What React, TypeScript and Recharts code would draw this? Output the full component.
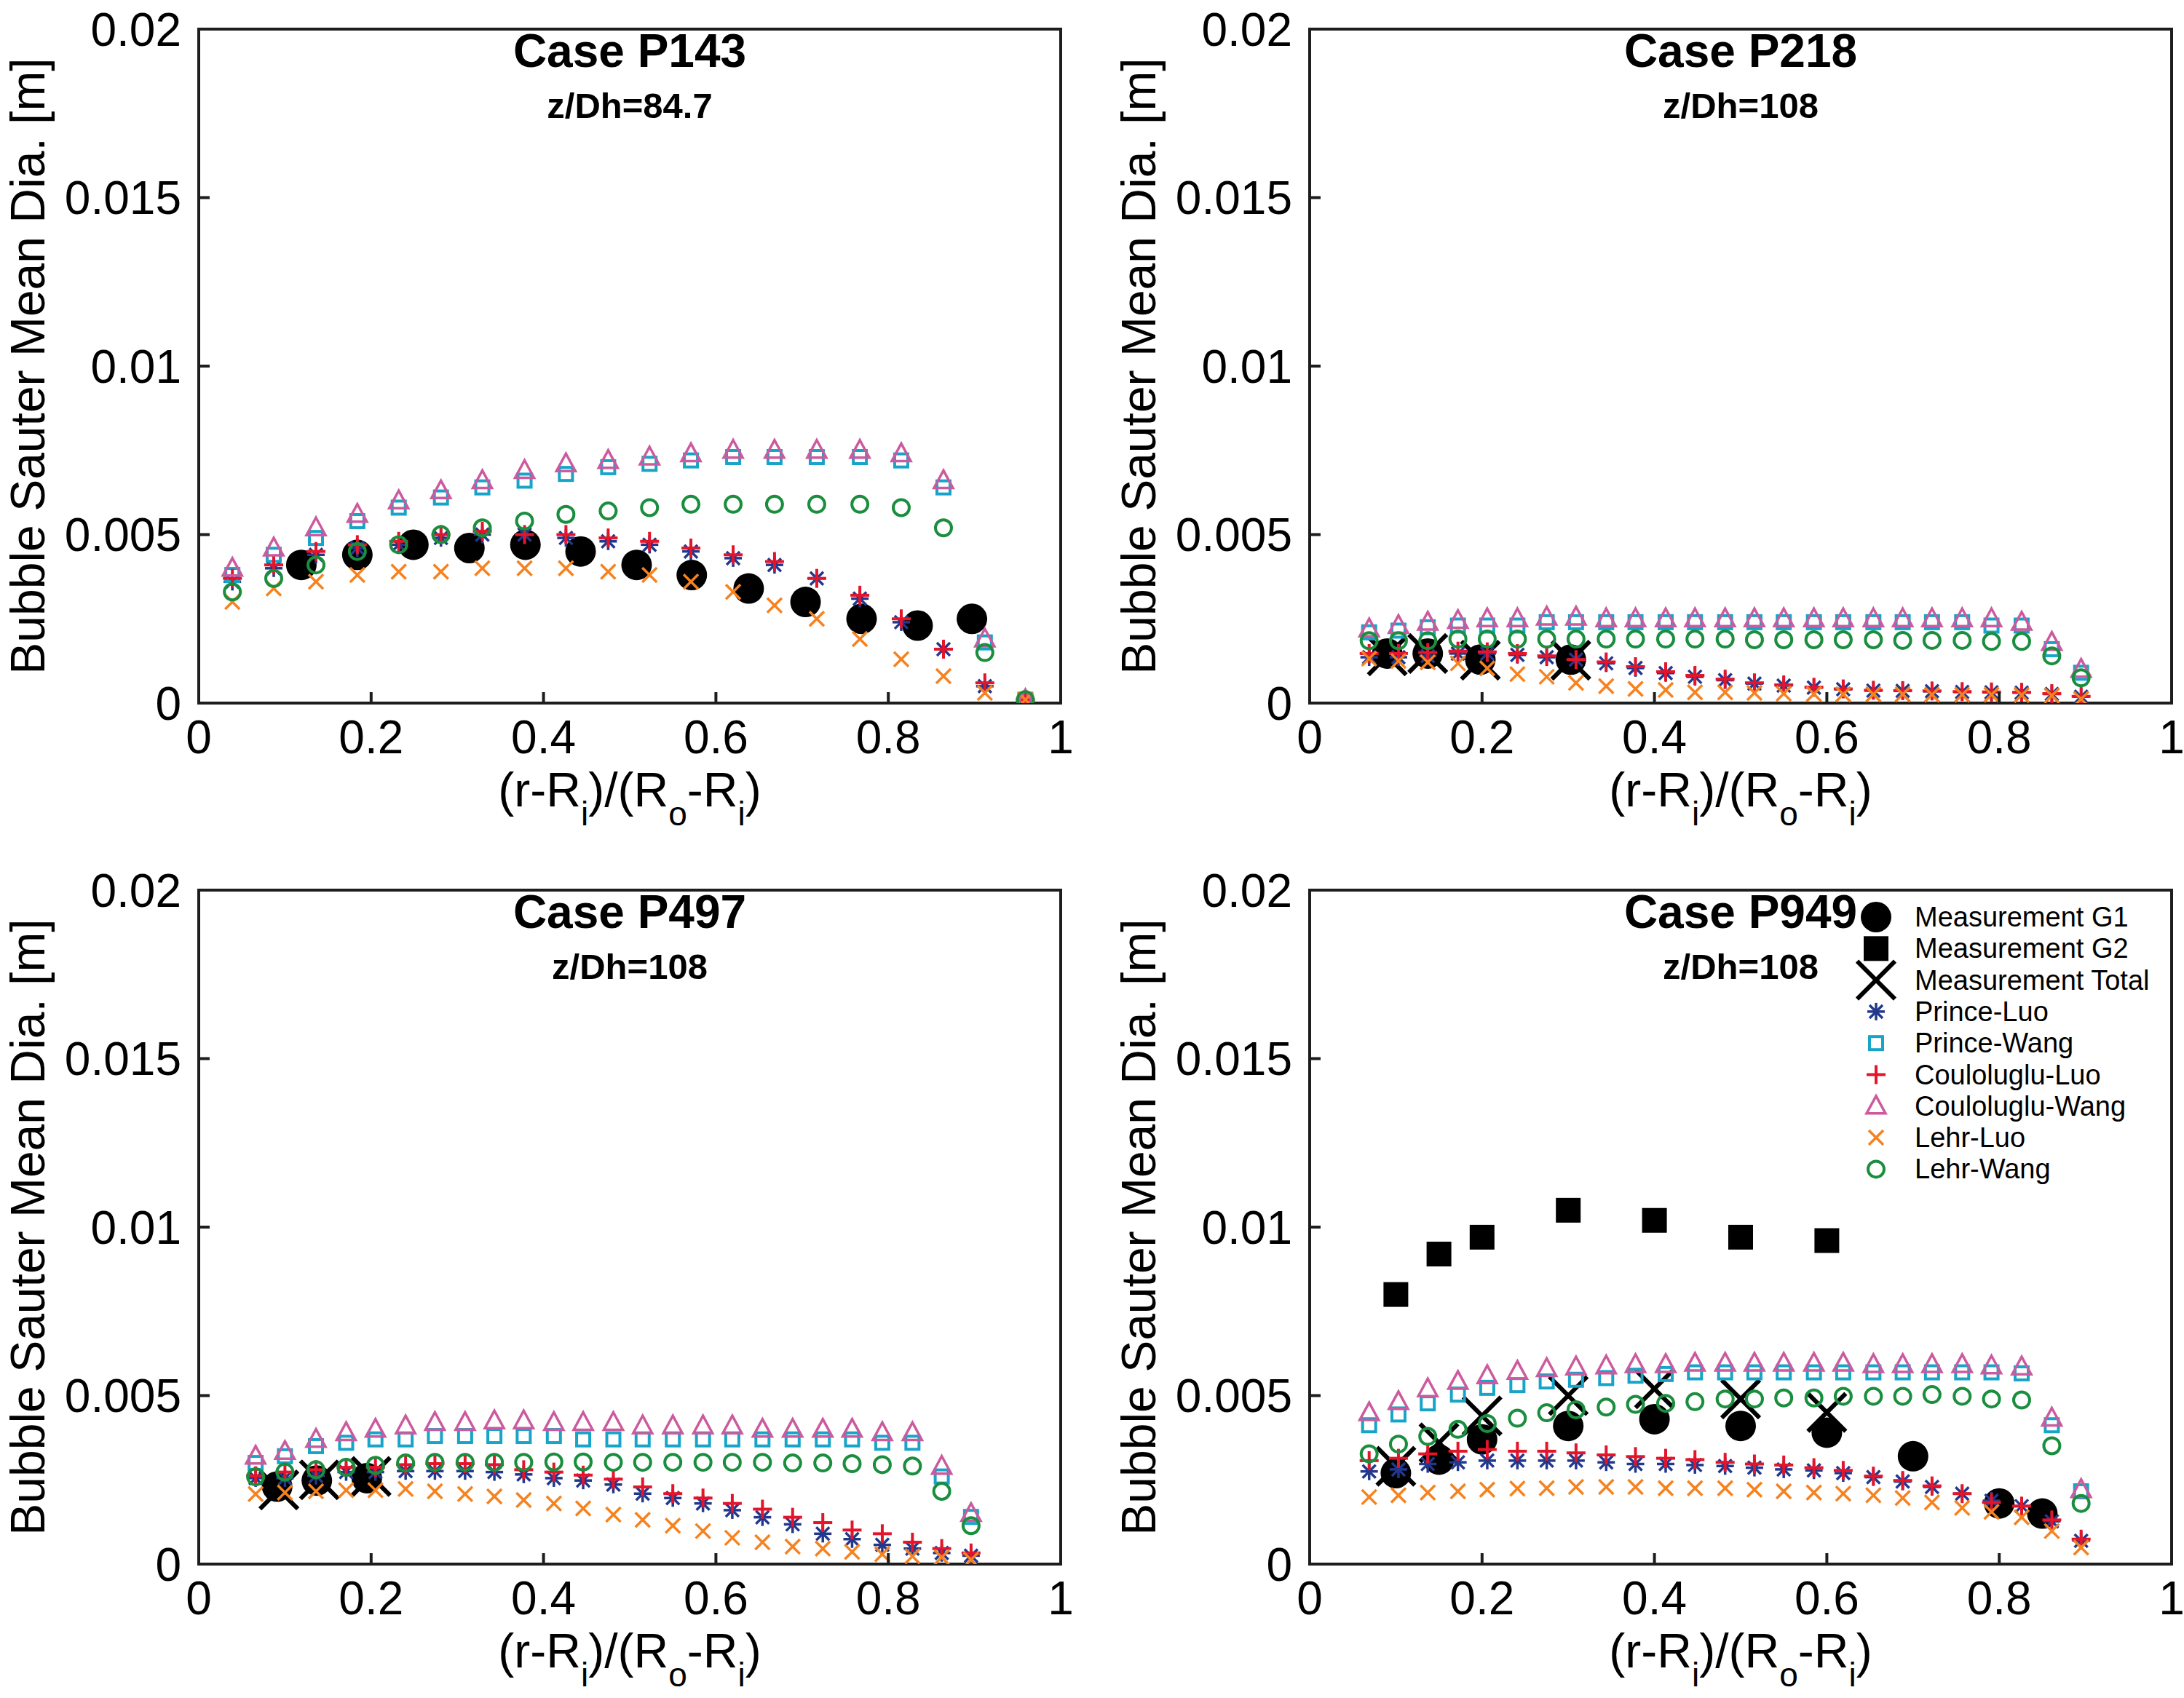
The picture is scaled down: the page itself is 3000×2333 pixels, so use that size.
import React from "react";
import { ScatterChart, Scatter, XAxis, YAxis } from "recharts";

const FONT = '"Liberation Sans", Arial, Helvetica, sans-serif';
const INK = "#1d1d1d";

const xTicks = [0, 0.2, 0.4, 0.6, 0.8, 1];
const yTicks = [0, 0.005, 0.01, 0.015, 0.02];

// ---- Case P143, z/Dh=84.7 ----
const p143X = [0.039, 0.087, 0.136, 0.184, 0.232, 0.281, 0.329, 0.378, 0.426, 0.475, 0.523, 0.571, 0.62, 0.668, 0.717, 0.767, 0.815, 0.864, 0.912, 0.959];
const p143PrinceLuo = [0.0036, 0.004, 0.0044, 0.0046, 0.0047, 0.0049, 0.005, 0.005, 0.0049, 0.0048, 0.0047, 0.0045, 0.0043, 0.0041, 0.0037, 0.0031, 0.0024, 0.0016, 0.0005, 0.0001];
const p143PrinceWang = [0.0038, 0.0044, 0.0049, 0.0054, 0.0058, 0.0061, 0.0064, 0.0066, 0.0068, 0.007, 0.0071, 0.0072, 0.0073, 0.0073, 0.0073, 0.0073, 0.0072, 0.0064, 0.0018, 0.0001];
const p143CouLuo = [0.0037, 0.0041, 0.0045, 0.0047, 0.0048, 0.005, 0.0051, 0.005, 0.005, 0.0049, 0.0048, 0.0046, 0.0044, 0.0042, 0.0037, 0.0032, 0.0025, 0.0016, 0.0006, 0.0001];
const p143CouWang = [0.004, 0.0046, 0.0052, 0.0056, 0.006, 0.0063, 0.0066, 0.0069, 0.0071, 0.0072, 0.0073, 0.0074, 0.0075, 0.0075, 0.0075, 0.0075, 0.0074, 0.0066, 0.0019, 0.0001];
const p143LehrLuo = [0.003, 0.0034, 0.0036, 0.0038, 0.0039, 0.0039, 0.004, 0.004, 0.004, 0.0039, 0.0038, 0.0036, 0.0033, 0.0029, 0.0025, 0.0019, 0.0013, 0.0008, 0.0003, 0.0001];
const p143LehrWang = [0.0033, 0.0037, 0.0041, 0.0045, 0.0047, 0.005, 0.0052, 0.0054, 0.0056, 0.0057, 0.0058, 0.0059, 0.0059, 0.0059, 0.0059, 0.0059, 0.0058, 0.0052, 0.0015, 0.0001];
const p143G1X = [0.119, 0.184, 0.249, 0.314, 0.379, 0.443, 0.508, 0.572, 0.638, 0.704, 0.769, 0.834, 0.897];
const p143G1 = [0.0041, 0.0044, 0.0047, 0.0046, 0.0047, 0.0045, 0.0041, 0.0038, 0.0034, 0.003, 0.0025, 0.0023, 0.0025];

// ---- Case P218, z/Dh=108 ----
const p218X = [0.069, 0.103, 0.137, 0.172, 0.206, 0.241, 0.275, 0.309, 0.344, 0.378, 0.413, 0.447, 0.482, 0.516, 0.55, 0.585, 0.619, 0.654, 0.688, 0.722, 0.757, 0.791, 0.826, 0.861, 0.895];
const p218PrinceLuo = [0.00136, 0.00136, 0.0014, 0.00147, 0.00147, 0.00143, 0.00136, 0.00129, 0.00118, 0.00104, 0.00089, 0.00078, 0.00068, 0.00058, 0.00052, 0.00046, 0.00041, 0.00037, 0.00036, 0.00035, 0.00033, 0.00032, 0.00031, 0.00027, 0.00019];
const p218PrinceWang = [0.0021, 0.00215, 0.00225, 0.0023, 0.0023, 0.0023, 0.0024, 0.0024, 0.0024, 0.0024, 0.0024, 0.0024, 0.0024, 0.0024, 0.0024, 0.0024, 0.0024, 0.0024, 0.0024, 0.0024, 0.0024, 0.0023, 0.0023, 0.0016, 0.0009];
const p218CouLuo = [0.00147, 0.00147, 0.0015, 0.00154, 0.00152, 0.00147, 0.0014, 0.00129, 0.00122, 0.00108, 0.00093, 0.00082, 0.00071, 0.0006, 0.00054, 0.00047, 0.00042, 0.00038, 0.00037, 0.00036, 0.00034, 0.00033, 0.00032, 0.00028, 0.0002];
const p218CouWang = [0.0022, 0.0023, 0.0024, 0.00245, 0.0025, 0.0025, 0.00255, 0.00255, 0.0025, 0.0025, 0.0025, 0.0025, 0.0025, 0.0025, 0.0025, 0.0025, 0.0025, 0.0025, 0.0025, 0.0025, 0.0025, 0.0025, 0.0024, 0.0018, 0.001];
const p218LehrLuo = [0.00132, 0.00125, 0.00121, 0.00118, 0.00103, 0.00086, 0.00078, 0.0006, 0.0005, 0.00042, 0.00039, 0.00032, 0.00032, 0.0003, 0.00028, 0.00027, 0.00026, 0.00026, 0.00026, 0.00025, 0.00025, 0.00025, 0.00024, 0.00022, 0.00012];
const p218LehrWang = [0.00185, 0.00185, 0.00185, 0.0019, 0.0019, 0.0019, 0.0019, 0.0019, 0.0019, 0.0019, 0.0019, 0.0019, 0.0019, 0.00188, 0.00188, 0.00188, 0.00188, 0.00188, 0.00186, 0.00186, 0.00186, 0.00183, 0.00183, 0.0014, 0.00075];
const p218MeasX = [0.09, 0.137, 0.198, 0.303];
const p218G1 = [0.00147, 0.00147, 0.00129, 0.00129];
const p218Total = [0.0014, 0.00147, 0.00127, 0.00127];

// ---- Case P497, z/Dh=108 ----
const p497X = [0.066, 0.1, 0.136, 0.171, 0.205, 0.24, 0.274, 0.309, 0.343, 0.377, 0.412, 0.446, 0.481, 0.515, 0.55, 0.585, 0.619, 0.654, 0.689, 0.724, 0.758, 0.793, 0.828, 0.862, 0.896];
const p497PrinceLuo = [0.00255, 0.00255, 0.00262, 0.00273, 0.00273, 0.00276, 0.00276, 0.00276, 0.00273, 0.00266, 0.00255, 0.00248, 0.00236, 0.00209, 0.00196, 0.0018, 0.0016, 0.00139, 0.00118, 0.0009, 0.00074, 0.00057, 0.00046, 0.00033, 0.00025];
const p497PrinceWang = [0.003, 0.0032, 0.0035, 0.0036, 0.0037, 0.0037, 0.0038, 0.0038, 0.0038, 0.0038, 0.0038, 0.0037, 0.0037, 0.0037, 0.0037, 0.0037, 0.0037, 0.0037, 0.0037, 0.0037, 0.0037, 0.0036, 0.0036, 0.0026, 0.0014];
const p497CouLuo = [0.00262, 0.00273, 0.0028, 0.00287, 0.00287, 0.00295, 0.00298, 0.00298, 0.00295, 0.0028, 0.00273, 0.00264, 0.00252, 0.00229, 0.00209, 0.00196, 0.0018, 0.00163, 0.00139, 0.00123, 0.00101, 0.0009, 0.00065, 0.00046, 0.00033];
const p497CouWang = [0.0032, 0.00334, 0.0037, 0.0039, 0.004, 0.0041, 0.0042, 0.0042, 0.00425, 0.00425, 0.0042, 0.0042, 0.0042, 0.0041, 0.0041, 0.0041, 0.0041, 0.004, 0.004, 0.004, 0.004, 0.0039, 0.0039, 0.0029, 0.0015];
const p497LehrLuo = [0.00208, 0.00212, 0.00216, 0.00219, 0.00219, 0.00223, 0.00216, 0.00208, 0.00201, 0.0019, 0.0018, 0.00165, 0.00147, 0.00131, 0.00114, 0.00098, 0.00078, 0.00065, 0.00052, 0.00046, 0.00036, 0.00029, 0.00023, 0.0002, 0.00013];
const p497LehrWang = [0.00259, 0.00273, 0.0028, 0.00287, 0.00293, 0.003, 0.00302, 0.00302, 0.00302, 0.00302, 0.00303, 0.00303, 0.00302, 0.00302, 0.00302, 0.00302, 0.00302, 0.00302, 0.003, 0.003, 0.00298, 0.00295, 0.00291, 0.00216, 0.00114];
const p497G1X = [0.091, 0.137, 0.195];
const p497G1 = [0.0023, 0.00248, 0.00255];
const p497TotalX = [0.093, 0.14, 0.2];
const p497Total = [0.0022, 0.0025, 0.0026];

// ---- Case P949, z/Dh=108 ----
const p949X = [0.069, 0.103, 0.137, 0.172, 0.206, 0.241, 0.275, 0.309, 0.344, 0.378, 0.413, 0.447, 0.482, 0.516, 0.55, 0.585, 0.619, 0.654, 0.688, 0.722, 0.757, 0.791, 0.826, 0.861, 0.895];
const p949PrinceLuo = [0.00275, 0.00281, 0.00297, 0.00302, 0.00307, 0.00307, 0.00307, 0.00307, 0.00302, 0.00297, 0.00297, 0.00294, 0.00291, 0.00286, 0.00281, 0.00278, 0.0027, 0.00258, 0.00245, 0.00229, 0.00209, 0.00188, 0.00172, 0.00127, 0.00069];
const p949PrinceWang = [0.00412, 0.00444, 0.00477, 0.00503, 0.00523, 0.00531, 0.00542, 0.00547, 0.00552, 0.00559, 0.00564, 0.00569, 0.00569, 0.00569, 0.00569, 0.00569, 0.00569, 0.00569, 0.00569, 0.00569, 0.00569, 0.00569, 0.00566, 0.00412, 0.00216];
const p949CouLuo = [0.00307, 0.00314, 0.00327, 0.00335, 0.0034, 0.00335, 0.00335, 0.0033, 0.00324, 0.00319, 0.00314, 0.0031, 0.00302, 0.00297, 0.00294, 0.00286, 0.00278, 0.00261, 0.00248, 0.00232, 0.00209, 0.00183, 0.00172, 0.00131, 0.00074];
const p949CouWang = [0.00449, 0.00482, 0.0052, 0.00542, 0.00559, 0.00572, 0.0058, 0.00585, 0.00588, 0.00592, 0.00592, 0.00596, 0.00596, 0.00596, 0.00596, 0.00596, 0.00596, 0.00592, 0.00592, 0.00592, 0.00592, 0.00588, 0.00585, 0.00433, 0.00221];
const p949LehrLuo = [0.00199, 0.00204, 0.00212, 0.00216, 0.00221, 0.00224, 0.00225, 0.00229, 0.00229, 0.00229, 0.00225, 0.00225, 0.00225, 0.00221, 0.00216, 0.00212, 0.00209, 0.00204, 0.00196, 0.00183, 0.00167, 0.00155, 0.00139, 0.00098, 0.00049];
const p949LehrWang = [0.00327, 0.00356, 0.00379, 0.004, 0.00417, 0.00433, 0.00449, 0.00458, 0.00466, 0.00474, 0.00477, 0.00482, 0.0049, 0.0049, 0.00493, 0.00493, 0.00498, 0.00498, 0.00498, 0.00503, 0.00498, 0.0049, 0.00487, 0.00351, 0.0018];
const p949G1X = [0.1, 0.15, 0.2, 0.3, 0.4, 0.5, 0.6, 0.7, 0.8, 0.85];
const p949G1 = [0.0027, 0.0031, 0.0037, 0.0041, 0.0043, 0.0041, 0.0039, 0.0032, 0.0018, 0.0015];
const p949MeasX = [0.1, 0.15, 0.2, 0.3, 0.4, 0.5, 0.6];
const p949G2 = [0.008, 0.0092, 0.0097, 0.0105, 0.0102, 0.0097, 0.0096];
const p949Total = [0.0029, 0.0036, 0.0044, 0.005, 0.0052, 0.0049, 0.0045];

type Kind = "g1" | "g2" | "total" | "princeLuo" | "princeWang" | "couLuo" | "couWang" | "lehrLuo" | "lehrWang";

const legendOrder: Kind[] = ["g1", "g2", "total", "princeLuo", "princeWang", "couLuo", "couWang", "lehrLuo", "lehrWang"];
const legendNames: Record<Kind, string> = {
  g1: "Measurement G1",
  g2: "Measurement G2",
  total: "Measurement Total",
  princeLuo: "Prince-Luo",
  princeWang: "Prince-Wang",
  couLuo: "Couloluglu-Luo",
  couWang: "Couloluglu-Wang",
  lehrLuo: "Lehr-Luo",
  lehrWang: "Lehr-Wang",
};
const colors: Record<Kind, string> = {
  g1: "#000000",
  g2: "#000000",
  total: "#000000",
  princeLuo: "#22388d",
  princeWang: "#17a4c8",
  couLuo: "#e4152b",
  couWang: "#cc5a9e",
  lehrLuo: "#f6821f",
  lehrWang: "#1a8e3e",
};

const zip = (xs: number[], ys: number[]) => xs.map((x, i) => ({ x, y: ys[i] }));

const Marker = ({ kind, cx, cy }: { kind: Kind; cx: number; cy: number }) => {
  const c = colors[kind];
  switch (kind) {
    case "g1":
      return <circle cx={cx} cy={cy} r={21} fill={c} />;
    case "g2":
      return <rect x={cx - 17} y={cy - 17} width={34} height={34} fill={c} />;
    case "total":
      return (
        <g stroke={c} strokeWidth={6}>
          <line x1={cx - 26} y1={cy - 26} x2={cx + 26} y2={cy + 26} />
          <line x1={cx - 26} y1={cy + 26} x2={cx + 26} y2={cy - 26} />
        </g>
      );
    case "princeLuo":
      return (
        <g stroke={c} strokeWidth={3.5}>
          <line x1={cx} y1={cy - 12} x2={cx} y2={cy + 12} />
          <line x1={cx - 12} y1={cy} x2={cx + 12} y2={cy} />
          <line x1={cx - 9} y1={cy - 9} x2={cx + 9} y2={cy + 9} />
          <line x1={cx - 9} y1={cy + 9} x2={cx + 9} y2={cy - 9} />
        </g>
      );
    case "princeWang":
      return <rect x={cx - 9} y={cy - 9} width={18} height={18} fill="none" stroke={c} strokeWidth={4} />;
    case "couLuo":
      return (
        <g stroke={c} strokeWidth={4}>
          <line x1={cx} y1={cy - 13} x2={cx} y2={cy + 13} />
          <line x1={cx - 13} y1={cy} x2={cx + 13} y2={cy} />
        </g>
      );
    case "couWang":
      return (
        <polygon
          points={`${cx},${cy - 14} ${cx + 13},${cy + 10} ${cx - 13},${cy + 10}`}
          fill="none"
          stroke={c}
          strokeWidth={3.5}
        />
      );
    case "lehrLuo":
      return (
        <g stroke={c} strokeWidth={3.5}>
          <line x1={cx - 10} y1={cy - 10} x2={cx + 10} y2={cy + 10} />
          <line x1={cx - 10} y1={cy + 10} x2={cx + 10} y2={cy - 10} />
        </g>
      );
    default:
      return <circle cx={cx} cy={cy} r={11} fill="none" stroke={c} strokeWidth={4} />;
  }
};

const XTick = (props: any) => {
  const { x, y, payload } = props;
  return (
    <g>
      <line x1={x} x2={x} y1={y - 24} y2={y - 39} stroke={INK} strokeWidth={4} />
      <text x={x} y={y} dy="0.71em" textAnchor="middle" fontSize={64} fontFamily={FONT} fill="#000">
        {String(payload.value)}
      </text>
    </g>
  );
};

const YTick = (props: any) => {
  const { x, y, payload } = props;
  return (
    <g>
      <line x1={x + 24} x2={x + 39} y1={y} y2={y} stroke={INK} strokeWidth={4} />
      <text x={x} y={y} dy="0.355em" textAnchor="end" fontSize={64} fontFamily={FONT} fill="#000">
        {String(payload.value)}
      </text>
    </g>
  );
};

const axisLine = { stroke: INK, strokeWidth: 4, strokeLinecap: "square" as const };

type SeriesSet = Partial<Record<Kind, { x: number; y: number }[]>>;

const Panel = ({
  left,
  top,
  title,
  sub,
  series,
  legend,
}: {
  left: number;
  top: number;
  title: string;
  sub: string;
  series: SeriesSet;
  legend?: boolean;
}) => {
  const W = 1497;
  const H = 1066;
  const cx = 273 + 592;
  return (
    <div style={{ position: "absolute", left, top, width: W, height: 1160 }}>
      <ScatterChart width={W} height={H} margin={{ top: 40, right: 40, bottom: 0, left: 0 }}>
        <XAxis
          xAxisId={0}
          type="number"
          dataKey="x"
          domain={[0, 1]}
          ticks={xTicks}
          height={100}
          tickSize={0}
          tickMargin={24}
          tickLine={false}
          axisLine={axisLine}
          tick={<XTick />}
          allowDataOverflow
        />
        <XAxis
          xAxisId="top"
          orientation="top"
          type="number"
          domain={[0, 1]}
          ticks={xTicks}
          height={1}
          mirror
          tick={false}
          tickSize={15}
          tickLine={{ stroke: INK, strokeWidth: 4 }}
          axisLine={axisLine}
        />
        <YAxis
          yAxisId={0}
          type="number"
          dataKey="y"
          domain={[0, 0.02]}
          ticks={yTicks}
          width={273}
          tickSize={0}
          tickMargin={24}
          tickLine={false}
          axisLine={axisLine}
          tick={<YTick />}
          allowDataOverflow
        />
        <YAxis
          yAxisId="right"
          orientation="right"
          type="number"
          domain={[0, 0.02]}
          ticks={yTicks}
          width={1}
          mirror
          tick={false}
          tickSize={15}
          tickLine={{ stroke: INK, strokeWidth: 4 }}
          axisLine={axisLine}
        />
        {legendOrder
          .filter((k) => series[k])
          .map((k) => (
            <Scatter
              key={k}
              name={legendNames[k]}
              data={series[k]}
              xAxisId={0}
              yAxisId={0}
              isAnimationActive={false}
              shape={(p: any) => <Marker kind={k} cx={p.cx} cy={p.cy} />}
            />
          ))}
      </ScatterChart>
      <svg
        width={W}
        height={1160}
        style={{ position: "absolute", left: 0, top: 0, pointerEvents: "none", overflow: "visible" }}
        fontFamily={FONT}
      >
        <text x={cx} y={92} textAnchor="middle" fontSize={64} fontWeight="bold" fill="#000">
          {title}
        </text>
        <text x={cx} y={162} textAnchor="middle" fontSize={49} fontWeight="bold" fill="#000">
          {sub}
        </text>
        <text transform="translate(61, 503) rotate(-90)" textAnchor="middle" fontSize={66} fill="#000">
          Bubble Sauter Mean Dia. [m]
        </text>
        <text x={cx} y={1108} textAnchor="middle" fontSize={66} fill="#000">
          (r-R<tspan dy={26} fontSize={46}>i</tspan>
          <tspan dy={-26}>)/(R</tspan>
          <tspan dy={26} fontSize={46}>o</tspan>
          <tspan dy={-26}>-R</tspan>
          <tspan dy={26} fontSize={46}>i</tspan>
          <tspan dy={-26}>)</tspan>
        </text>
        {legend &&
          legendOrder.map((k, i) => {
            const y = 77 + i * 43.3;
            return (
              <g key={k}>
                <Marker kind={k} cx={1051} cy={y} />
                <text x={1104} y={y + 13} fontSize={38} fill="#000">
                  {legendNames[k]}
                </text>
              </g>
            );
          })}
      </svg>
    </div>
  );
};

const App = () => {
  const p143: SeriesSet = {
    g1: zip(p143G1X, p143G1),
    princeLuo: zip(p143X, p143PrinceLuo),
    princeWang: zip(p143X, p143PrinceWang),
    couLuo: zip(p143X, p143CouLuo),
    couWang: zip(p143X, p143CouWang),
    lehrLuo: zip(p143X, p143LehrLuo),
    lehrWang: zip(p143X, p143LehrWang),
  };
  const p218: SeriesSet = {
    g1: zip(p218MeasX, p218G1),
    total: zip(p218MeasX, p218Total),
    princeLuo: zip(p218X, p218PrinceLuo),
    princeWang: zip(p218X, p218PrinceWang),
    couLuo: zip(p218X, p218CouLuo),
    couWang: zip(p218X, p218CouWang),
    lehrLuo: zip(p218X, p218LehrLuo),
    lehrWang: zip(p218X, p218LehrWang),
  };
  const p497: SeriesSet = {
    g1: zip(p497G1X, p497G1),
    total: zip(p497TotalX, p497Total),
    princeLuo: zip(p497X, p497PrinceLuo),
    princeWang: zip(p497X, p497PrinceWang),
    couLuo: zip(p497X, p497CouLuo),
    couWang: zip(p497X, p497CouWang),
    lehrLuo: zip(p497X, p497LehrLuo),
    lehrWang: zip(p497X, p497LehrWang),
  };
  const p949: SeriesSet = {
    g1: zip(p949G1X, p949G1),
    g2: zip(p949MeasX, p949G2),
    total: zip(p949MeasX, p949Total),
    princeLuo: zip(p949X, p949PrinceLuo),
    princeWang: zip(p949X, p949PrinceWang),
    couLuo: zip(p949X, p949CouLuo),
    couWang: zip(p949X, p949CouWang),
    lehrLuo: zip(p949X, p949LehrLuo),
    lehrWang: zip(p949X, p949LehrWang),
  };

  return (
    <div style={{ position: "absolute", left: 0, top: 0, width: 3000, height: 2333, background: "#fff", overflow: "hidden" }}>
      <Panel left={0} top={0} title="Case P143" sub="z/Dh=84.7" series={p143} />
      <Panel left={1526} top={0} title="Case P218" sub="z/Dh=108" series={p218} />
      <Panel left={0} top={1183} title="Case P497" sub="z/Dh=108" series={p497} />
      <Panel left={1526} top={1183} title="Case P949" sub="z/Dh=108" series={p949} legend />
    </div>
  );
};

export default App;
